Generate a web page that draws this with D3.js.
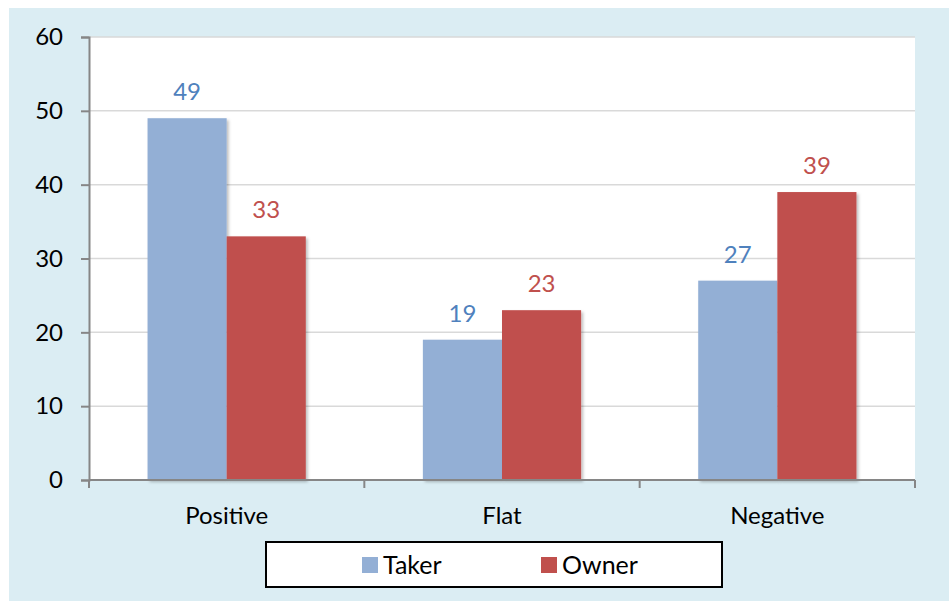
<!DOCTYPE html>
<html>
<head>
<meta charset="utf-8">
<script src="https://cdn.jsdelivr.net/npm/d3@7"></script>
<style>
  body { margin: 0; background: #fff; }
  text { font-family: Lato, "Open Sans", sans-serif; }
</style>
</head>
<body>
<div id="chart"></div>
<script>
// data
const categories = ["Positive", "Flat", "Negative"];
const seriesNames = ["Taker", "Owner"];
const takerValues = [49, 19, 27];
const ownerValues = [33, 23, 39];
const yTicks = [0, 10, 20, 30, 40, 50, 60];

const barColors = ["#93afd5", "#c0504d"];
const labelColors = ["#4f81bd", "#c0504d"];

const width = 949, height = 601;
const margin = {left: 89, right: 34, top: 37, bottom: 121};

const svg = d3.select("#chart").append("svg")
    .attr("width", width)
    .attr("height", height);

// soft shadow under bars
const defs = svg.append("defs");
const shadow = defs.append("filter").attr("id", "shadow")
    .attr("x", "-10%").attr("y", "-10%").attr("width", "130%").attr("height", "130%");
shadow.append("feDropShadow")
    .attr("dx", 2).attr("dy", 2).attr("stdDeviation", 1.5)
    .attr("flood-color", "#000").attr("flood-opacity", 0.25);

// outer light blue panel
svg.append("rect")
    .attr("x", 9).attr("y", 8)
    .attr("width", width - 9).attr("height", height - 8)
    .attr("fill", "#dbedf3");

const x = d3.scaleBand()
    .domain(categories)
    .range([margin.left, width - margin.right]);

const xSub = d3.scaleBand()
    .domain(seriesNames)
    .range([0, x.bandwidth()])
    .paddingOuter(0.74);

const y = d3.scaleLinear()
    .domain([0, 60])
    .range([height - margin.bottom, margin.top]);

// plot area
svg.append("rect")
    .attr("x", margin.left).attr("y", margin.top)
    .attr("width", width - margin.left - margin.right)
    .attr("height", height - margin.top - margin.bottom)
    .attr("fill", "#fff");

// gridlines
svg.append("g")
    .selectAll("line")
    .data(yTicks.slice(1))
    .join("line")
    .attr("x1", margin.left).attr("x2", width - margin.right)
    .attr("y1", d => y(d)).attr("y2", d => y(d))
    .attr("stroke", "#d9d9d9")
    .attr("stroke-width", 1.5);

// bars
const rows = categories.map((c, i) => ({cat: c, vals: [takerValues[i], ownerValues[i]]}));

const groups = svg.append("g")
    .selectAll("g")
    .data(rows)
    .join("g")
    .attr("transform", d => "translate(" + x(d.cat) + ",0)");

groups.selectAll("rect")
    .data(d => d.vals.map((v, k) => ({name: seriesNames[k], v: v, k: k})))
    .join("rect")
    .attr("x", d => xSub(d.name))
    .attr("y", d => y(d.v))
    .attr("width", xSub.bandwidth())
    .attr("height", d => y(0) - y(d.v))
    .attr("fill", d => barColors[d.k])
    .attr("filter", "url(#shadow)");

groups.selectAll("text")
    .data(d => d.vals.map((v, k) => ({name: seriesNames[k], v: v, k: k})))
    .join("text")
    .attr("x", d => xSub(d.name) + xSub.bandwidth() / 2)
    .attr("y", d => y(d.v) - 18)
    .attr("text-anchor", "middle")
    .attr("font-size", "24px")
    .attr("fill", d => labelColors[d.k])
    .text(d => d.v);

// y axis
const yAxis = svg.append("g")
    .attr("transform", "translate(" + margin.left + ",0)")
    .call(d3.axisLeft(y).tickValues(yTicks).tickSize(8).tickPadding(18));
yAxis.select(".domain").attr("stroke", "#868686").attr("stroke-width", 2);
yAxis.selectAll(".tick line").attr("stroke", "#868686").attr("stroke-width", 2);
yAxis.selectAll(".tick text")
    .attr("font-size", "24px")
    .attr("fill", "#000")
    .attr("font-family", "Lato, 'Open Sans', sans-serif");

// x axis, ticks at band edges
const xAxis = svg.append("g")
    .attr("transform", "translate(0," + y(0) + ")");
xAxis.append("line")
    .attr("x1", margin.left).attr("x2", width - margin.right)
    .attr("stroke", "#868686").attr("stroke-width", 2);
const edges = categories.map(c => x(c)).concat([x(categories[categories.length - 1]) + x.bandwidth()]);
xAxis.selectAll("line.edge")
    .data(edges)
    .join("line")
    .attr("class", "edge")
    .attr("x1", d => d).attr("x2", d => d)
    .attr("y1", 0).attr("y2", 8)
    .attr("stroke", "#868686").attr("stroke-width", 2);
xAxis.selectAll("text")
    .data(categories)
    .join("text")
    .attr("x", d => x(d) + x.bandwidth() / 2)
    .attr("y", 44)
    .attr("text-anchor", "middle")
    .attr("font-size", "24px")
    .attr("fill", "#000")
    .text(d => d);

// legend
const legend = svg.append("g");
legend.append("rect")
    .attr("x", 266).attr("y", 542)
    .attr("width", 456).attr("height", 45)
    .attr("fill", "#fff")
    .attr("stroke", "#000")
    .attr("stroke-width", 2);

const legendX = [362, 541];
seriesNames.forEach((name, k) => {
  legend.append("rect")
      .attr("x", legendX[k]).attr("y", 557)
      .attr("width", 16).attr("height", 16)
      .attr("fill", barColors[k]);
  legend.append("text")
      .attr("x", legendX[k] + 21).attr("y", 574)
      .attr("font-size", "25px")
      .attr("fill", "#000")
      .text(name);
});
</script>
</body>
</html>
